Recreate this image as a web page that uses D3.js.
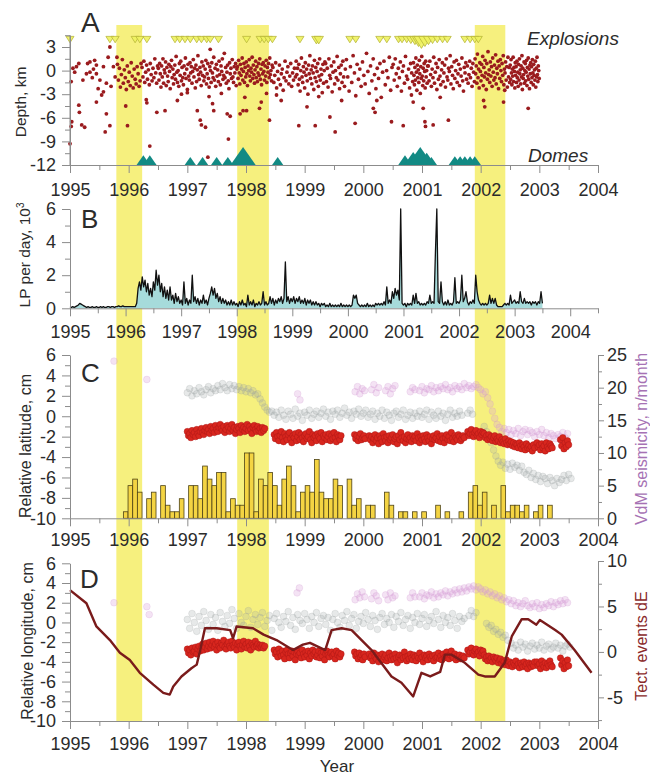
<!DOCTYPE html>
<html><head><meta charset="utf-8">
<script src="https://cdn.jsdelivr.net/npm/d3@7"></script>
<style>body{margin:0;background:#fff} svg text{font-family:"Liberation Sans",Arial,sans-serif}</style>
</head><body><svg id="c" width="650" height="776"></svg>
<script>
// ---------------- DATA ----------------
const yearLabels = ["1995","1996","1997","1998","1999","2000","2001","2002","2003","2004"];
const bands = [[1995.79,1996.23],[1997.85,1998.39],[2001.9,2002.42]];

// Panel A: explosions, domes, earthquake depths
const explosionT = [1995.0,1995.68,1995.77,1996.11,1996.19,1996.31,1996.79,1996.87,1996.96,1997.05,1997.16,1997.24,1997.33,1997.39,1997.53,1998.01,1998.24,1998.31,1998.38,1998.45,1998.92,1999.2,1999.24,1999.77,1999.87,2000.28,2000.4,2000.6,2000.66,2000.74,2000.81,2000.88,2000.94,2000.99,2001.05,2001.11,2001.18,2001.26,2001.35,2001.43,2001.73,2001.82,2001.9,2001.96];
const explosionSize = [1,1,1,1,1,1,1,1,1,1,1,1,1,1,1,1,1,1,1,1,1,1.3,1.3,1,1,1,1,1,1,1,1.2,1.5,2,2.5,2,1.5,1.2,1,1,1,1,1,1,1];
const domeT = [1996.25,1996.36,1997.05,1997.26,1997.5,1997.69,1997.95,1998.54,2000.71,2000.85,2000.97,2001.08,2001.16,2001.56,2001.65,2001.73,2001.82,2001.9];
const domeSize = [1.2,1.2,1,1,1,1,2.2,1,1.2,1.6,2.2,1.5,1,1.1,1.1,1.1,1.1,1.1];
const depthPts = [[1995.0,-9.3],[1995.03,-6.5],[1995.02,-7.1],[1995.2,-6.9],[1995.25,-7.2],[1995.15,-4.4],[1995.16,-5.3],[1995.02,-1.4],[1995.08,-0.2],[1995.15,0.9],[1995.34,1.1],[1995.42,1.3],[1995.34,-0.2],[1995.45,-0.4],[1995.51,-1.2],[1995.48,-2.3],[1995.45,-4.0],[1995.62,-5.5],[1995.68,-7.0],[1995.6,-7.8],[1995.68,3.0],[1995.65,1.7],[1995.74,0.5],[1995.77,-0.8],[1995.57,0.5],[1995.54,-3.1],[1995.28,-0.4],[1995.22,-1.2],[1995.11,0.5],[1995.8,1.7],[1995.62,-1.6],[1995.57,-2.7],[1995.45,0.7],[1995.3,0.9],[1995.38,-0.9],[1995.05,0.3],[1995.7,-2.0],[1995.4,0.2],
 [1995.95,-4.5],[1995.98,-7.0],[1996.3,-3.7],[1996.31,-4.1],[1996.36,-9.6],[1996.48,-5.3],
 [1996.62,-5.1],[1996.83,-3.8],[1997.22,-6.3],[1997.24,-6.9],[1997.31,-7.2],[1997.35,-11.0],[1997.17,-5.1],[1997.45,-5.1],[1997.43,-4.2],[1997.68,-5.5],[1997.73,-5.8],[1997.7,-8.7],[1997.58,-2.9],[1997.37,-3.3],[1997.39,2.7],[1996.9,-3.0],[1997.0,-2.8],
 [1997.9,-5.5],[1997.95,-5.1],[1998.01,-5.1],[1997.98,-3.4],[1998.26,-4.0],[1998.23,-4.8],[1998.4,-6.3],[1998.35,-2.9],[1998.52,-3.1],[1998.6,-3.8],[1998.9,-7.0],[1999.04,-4.6],[1999.18,-7.0],[1999.24,-3.3],
 [1999.43,-5.9],[1999.52,-7.8],[1999.63,-3.8],[1999.86,-6.7],[2000.17,-4.8],[2000.2,-5.3],[2000.23,-3.8],[2000.48,-6.5],[2000.68,-7.0],[2000.82,-3.1],[2000.85,-4.0],[2001.02,-4.8],[2001.05,-6.5],[2001.06,-7.1],[2001.19,-6.9],[2001.45,-6.3],[2001.31,-3.4],[2002.07,-4.6],[2002.05,-3.8],[2002.39,-4.0],[2002.81,-4.8],[2002.41,-2.5]];
// dense runs of events: [start year, end year, depths in order]
const depthRuns = [
 [1995.8,1996.22,[0.8,-1.2,0.3,-2.1,-0.5,1.4,-1.6,0.1,-0.9,-2.4,0.6,-1.4,-0.2,-1.9,1.0,-0.7,-2.2,0.2,-1.1,-1.7,0.5,-0.4,-2.0,-1.3,0.9]],
 [1996.22,1996.5,[0.4,-0.8,1.2,-1.5,-0.2,0.7,-1.1,0.1,-1.8,0.9,-0.5,-1.3,0.3,-0.9,1.5,-0.3,-1.6,0.6]],
 [1996.5,1997.85,[0.3,-1.2,0.9,-0.4,-2.1,0.6,-0.8,1.5,-1.6,0.1,-0.3,1.1,-1.9,0.4,-0.7,-1.4,0.8,-0.1,-2.3,0.5,1.3,-0.9,0.2,-1.7,-0.5,0.7,-1.1,1.8,-0.2,-1.5,0.0,-2.0,0.9,-0.6,1.2,-1.3,0.4,-0.9,-1.8,0.6,-0.4,1.6,-1.0,0.2,-2.4,0.8,-0.7,-1.2,1.0,-0.3,0.5,-1.6,-0.1,1.4,-0.8,0.3,-2.2,0.7,-1.4,0.1,1.9,-0.5,-1.1,0.4,-0.2,-1.9,1.1,-0.6,0.6,-1.3,-0.8,0.2,1.3,-1.7,-0.4,0.9,-1.0,-2.1,0.5,0.0,-1.5,1.0,-0.3,-0.9,1.7,-1.2,0.3,-2.0,0.8,-0.7,0.1,-1.4,1.2,-0.5,-1.8,0.6,-0.1,1.5,-1.1,-0.6,2.2,-0.9,0.4,-1.6,-0.2,0.7,-1.3,-2.3,1.0,-0.4,0.3,-1.0,1.4,-0.8,-1.5,0.5,-0.3,0.9,-1.9,0.2]],
 [1997.85,1998.45,[0.5,-1.0,1.3,-0.3,-1.7,0.8,-0.6,0.2,1.6,-1.2,-0.1,0.9,-1.5,0.4,-0.8,1.1,-0.4,-1.9,0.6,0.0,1.4,-0.7,-1.3,0.3,-0.2,1.7,-1.0,0.7,-0.5,-1.6,0.1,1.2,-0.9,0.5,-1.4,-0.3,0.9,-0.6,1.5,-1.1,0.2,-1.8,0.8,-0.4,1.0,-0.1,-1.2,0.6,-0.7,1.3,-1.5,0.4,-0.2,0.9,-0.9,1.6,-0.5,0.0,-1.3,0.7]],
 [1998.45,1998.85,[0.4,-1.5,-0.6,1.0,-2.2,-0.1,-1.1,0.7,-1.8,-0.4,0.2,-2.5,-0.9,1.2,-1.3,-0.2,0.5,-1.7,-0.7,0.9,-2.0,-0.3,-1.2,0.3,-0.8]],
 [1998.85,1999.35,[1.2,-0.5,0.3,-1.8,0.8,-1.1,-2.6,0.0,1.6,-0.8,-1.5,0.5,-0.2,-2.2,1.0,-0.6,0.2,-1.3,-3.0,0.7,-0.4,1.9,-1.0,0.1,-1.7,0.6,-0.3,-2.4,1.3,-0.9,0.4,-1.4,-0.1,0.9,-2.0,-0.7,1.5,-1.2,0.2,-0.5,-2.8,0.8,-1.6,0.0,1.1]],
 [1999.35,1999.7,[0.9,-1.4,0.3,-2.1,1.5,-0.6,-1.0,0.6,-2.7,-0.2,1.1,-1.7,0.0,-0.9,1.8,-1.2,0.4,-2.3,-0.4,0.7,-1.5,1.2,-0.8,-2.0,0.2]],
 [1999.7,2000.5,[1.4,-0.8,-2.6,0.5,-1.5,1.9,-0.3,-3.2,0.8,-1.1,0.2,-2.0,1.1,-0.6,-1.7,2.2,-0.1,-2.9,0.6,-1.3,1.5,-0.5,-2.3,0.3,-1.0,0.9,-3.4,-0.2,1.2,-1.8,0.0,-0.9,1.7,-2.5,0.4]],
 [2000.5,2000.85,[0.8,-1.2,1.5,-0.4,-2.0,0.3,-0.9,1.1,-2.6,-0.1,0.6,-1.6,1.8,-0.7,-1.1,0.2,-2.2,0.9,-0.3,-1.4]],
 [2000.85,2001.1,[1.0,-0.6,-1.8,0.4,-1.2,1.6,-0.2,-2.5,0.7,-0.9,0.1,-1.5,1.3,-0.4,-2.9,0.5,-1.0,1.8,-0.7,-1.9,0.3,-1.3,0.9,-0.1,-2.2,1.2,-0.8,0.0,-1.6,0.6]],
 [2001.1,2001.9,[0.6,-1.3,1.2,-0.5,-2.0,0.2,-0.9,1.7,-1.6,-0.2,0.9,-2.4,0.4,-1.1,1.4,-0.7,-1.8,0.1,1.0,-1.4,-0.3,0.7,-2.1,1.5,-0.8,-1.2,0.3,-0.1,1.9,-1.7,0.5,-0.6,-2.3,1.1,-1.0,0.0,1.3,-1.5,-0.4,0.8,-1.9,0.2,-0.7,1.6,-1.3,-2.6,0.4,-0.3,1.0,-1.1,0.6,-1.6,-0.5,1.2,-0.9,0.3,-2.0,0.9,-0.2,-1.4]],
 [2001.9,2002.5,[1.5,-0.4,0.6,-1.6,2.1,-0.9,0.2,-2.2,1.0,-0.1,-1.3,0.8,-0.6,1.8,-1.9,0.4,-0.8,1.3,-0.3,-2.4,0.9,-1.1,2.4,-0.5,0.1,-1.5,1.1,-0.7,0.5,-2.0,1.6,-0.2,-1.2,0.7,-0.9,2.0,-1.7,0.3,-0.4,1.2,-2.3,0.6,-1.0,1.4,0.0,-1.4,0.9,-0.6,1.9,-1.8,0.2,-0.3,1.1,-1.2,0.5,-2.1,1.7,-0.8,0.4,-1.5]],
 [2002.5,2003.0,[0.7,-1.1,1.4,-0.3,-1.8,0.2,-0.7,1.7,-1.4,0.4,-0.1,-2.2,1.0,-0.6,0.5,-1.5,1.2,-0.9,-0.2,-2.0,0.8,-1.2,1.5,-0.4,0.1,-1.7,0.6,-0.8,1.9,-2.4,0.3,-1.0,-0.5,1.1,-1.6,0.0,0.9,-1.3,-0.2,1.3,-1.9,0.4,-0.7,1.6,-1.1,0.2,-2.3,0.7,-0.4,1.0,-1.5,0.5,-0.9,1.4,-0.3,-1.8,0.8,-0.6,0.1,-1.2,1.2,-2.1,0.3,-0.8,1.7,-0.5,-1.4,0.6,0.0,-1.0]]
];

// Panel B: LP events per day (thousands), sampled every lpStep years from lpStart
const lpStart = 1995.0, lpStep = 0.025;
const lpPerDay = [
 0.1,0.05,0.1,0.05,0.1,0.15,0.2,0.3,0.25,0.2,0.15,0.1,0.05,0.1,0.05,0.05,0.1,0.05,0.05,0.1,0.05,0.05,0.1,0.05,0.1,0.05,0.05,0.1,0.1,0.05,0.1,0.1,0.05,0.1,0.1,0.15,0.1,0.1,0.15,0.1,
 0.1,0.1,0.1,0.1,0.1,0.1,0.1,0.1,0.3,1.2,1.6,1.1,1.9,1.3,1.7,1.0,1.5,0.8,1.2,0.7,1.6,1.1,2.3,1.4,2.0,1.0,1.5,0.7,1.3,0.6,1.1,0.5,1.3,0.5,0.8,0.3,0.9,0.4,0.7,0.3,
 0.5,0.2,1.6,0.3,0.6,0.2,0.5,0.3,2.0,0.4,0.7,0.3,0.6,0.2,0.5,0.3,0.8,0.3,0.5,0.2,0.6,0.9,1.3,0.8,1.2,0.6,0.9,0.4,0.7,0.3,0.6,0.3,0.5,0.2,0.4,0.2,0.5,0.2,0.4,0.2,
 0.3,0.1,0.4,0.2,0.5,0.2,0.3,0.1,0.8,0.2,0.4,0.2,0.5,0.1,0.3,0.2,0.4,0.2,0.3,1.0,0.2,0.4,0.2,0.3,0.7,0.3,0.6,0.2,0.5,0.3,0.6,0.4,0.7,0.3,0.6,2.8,0.4,0.7,0.3,0.6,
 0.4,0.7,0.3,0.6,0.4,0.7,0.3,0.5,0.3,0.6,0.2,0.5,0.3,0.5,0.2,0.4,0.2,0.4,0.2,0.3,0.1,0.3,0.2,0.3,0.1,0.2,0.1,0.3,0.1,0.2,0.1,0.2,0.1,0.2,0.1,0.3,0.1,0.2,0.1,0.2,
 0.1,0.2,0.1,0.2,0.8,0.6,0.8,0.3,0.2,0.1,0.2,0.1,0.2,0.1,0.3,0.1,0.2,0.1,0.2,0.1,0.3,0.2,0.3,0.2,0.3,0.2,0.4,0.2,1.3,0.3,0.5,0.3,1.0,0.6,1.2,0.8,1.1,0.5,6.0,0.3,
 0.2,0.3,0.1,0.3,0.2,0.3,0.2,0.8,0.3,0.9,0.3,0.4,0.2,0.3,0.2,0.3,0.2,0.4,0.3,0.8,0.3,0.4,0.3,3.4,6.0,0.4,0.3,1.6,0.4,0.2,0.4,0.2,0.5,0.2,0.3,0.2,0.4,1.85,0.3,0.4,
 0.3,0.5,2.0,0.4,0.6,1.0,0.4,0.2,0.4,0.3,0.5,0.3,2.0,1.0,0.5,0.3,0.2,0.3,0.2,0.3,0.2,0.3,0.8,0.3,0.6,0.3,0.6,0.2,0.1,0.1,0.1,0.1,0.2,0.3,0.2,0.3,0.2,0.8,0.3,0.4,
 0.5,0.3,0.4,0.3,1.0,0.4,0.3,0.6,0.3,0.4,0.3,0.4,0.2,0.4,0.3,0.4,0.2,0.4,0.3,1.0,0.3];

// GPS series: segments [start year, values]; gray/pink one value every gpsStep years, red every redStep
const gpsStep = 0.04, redStep = 0.02;
const latRed = [
 [1997.00,[-1.5,-1.9,-1.7,-2.1,-1.4,-1.8,-1.6,-2.0,-1.3,-1.7,-1.9,-1.5,-1.2,-1.6,-1.8,-1.4,-1.1,-1.5,-1.3,-1.7,-1.0,-1.4,-1.2,-1.6,-0.9,-1.3,-1.5,-1.1,-0.8,-1.2,-1.4,-1.0,-1.6,-1.3,-0.9,-1.1,-1.5,-1.2,-0.8,-1.4,-1.1,-1.7,-1.3,-1.0,-1.2,-1.6,-0.9,-1.3,-1.1,-1.5,-1.2,-0.8,-1.4,-1.0,-1.3,-1.7,-1.1,-0.9,-1.3,-1.5,-1.0,-1.4,-1.2,-1.6]],
 [1998.28,[-1.1,-1.4,-1.2]],
 [1998.48,[-1.8,-2.2,-1.6,-2.0,-2.4,-1.9,-1.5,-2.1,-2.5,-1.7,-2.0,-2.3,-1.8,-1.6,-2.2,-2.6,-1.9,-2.1,-1.7,-2.4,-2.0,-1.6,-2.3,-1.8,-2.1,-2.5,-1.9,-1.7,-2.2,-2.0,-1.5,-2.3,-2.6,-1.8,-2.1,-1.9,-2.4,-1.7,-2.0,-2.2,-1.6,-2.5,-1.9,-2.1,-1.8,-2.3,-2.0,-1.7,-2.4,-1.9,-2.2,-1.6,-2.1,-2.5,-1.8,-2.0,-2.3,-1.9]],
 [1999.85,[-1.8,-2.2,-1.9,-2.4,-2.0,-1.7,-2.3,-2.1,-1.9,-2.2]],
 [2000.10,[-1.9,-2.3,-2.0,-2.6,-2.2,-1.8,-2.4,-2.1,-2.7,-1.9,-2.2,-2.5,-1.7,-2.1,-2.4,-2.0,-2.6,-1.9,-2.3,-2.1,-1.8,-2.5,-2.2,-2.0,-2.7,-1.9,-2.3,-1.6,-2.1,-2.4,-2.0,-2.6,-2.2,-1.8,-2.3,-2.1,-2.5,-1.9,-2.2,-2.0,-2.4,-1.7,-2.1,-2.6,-2.0,-2.3,-1.9,-2.2,-2.5,-1.8,-2.1,-2.4,-2.0,-2.7,-2.2,-1.9,-2.3,-2.1,-1.7,-2.4,-2.0,-2.5,-1.9,-2.2,-2.6,-2.1,-1.8,-2.3,-2.0,-2.4,-1.6,-2.2,-2.5,-1.9,-2.1,-2.3,-1.8,-2.0,-2.4,-2.2,-1.9,-2.1]],
 [2001.78,[-1.5,-1.9,-1.7,-1.3,-1.8,-2.0,-1.6,-1.4,-1.9,-1.7,-2.1,-1.5,-1.8,-1.6]],
 [2002.06,[-1.7,-2.1,-1.9,-2.3,-1.8,-2.2,-2.0,-2.4,-2.1,-1.9,-2.5,-2.2,-2.4,-2.0,-2.6,-2.3,-2.5,-2.7,-2.2,-2.6,-2.8,-2.4,-2.7,-2.5,-2.9,-2.6,-3.0,-2.7,-2.8,-3.1,-2.6,-2.9,-3.2,-2.8,-3.0,-3.3,-2.7,-3.1,-2.9,-3.2,-3.0,-3.4,-2.8,-3.1]],
 [2002.96,[-2.6,-3.0,-2.8,-3.3,-2.7,-3.1,-2.9,-3.4,-2.6,-3.0,-3.2,-2.7,-2.9,-3.1]],
 [2003.36,[-2.3,-2.9,-2.1,-3.2,-2.6,-3.0,-2.4,-2.8]]];
const latGray = [
 [1997.00,[2.3,2.7,2.0,2.5,2.2,2.8,2.4,2.1,2.6,2.9,2.3,2.7,2.5,3.0,2.6,3.2,2.8,2.5,3.1,2.7,3.0,2.6,2.9,2.5,2.8,2.4,2.7,2.3,2.5,2.1,2.2,1.7,1.3,0.9,0.6,0.4,0.5,0.1]],
 [1998.52,[0.4,-0.1,0.6,0.1,-0.3,0.5,0.2,-0.2,0.7,0.0,0.3,-0.4,0.4,0.1,0.6,-0.2,0.2,0.5,-0.1,0.3,0.7,0.0,0.4,-0.3,0.5,0.2,0.6,-0.1,0.3,0.8,0.1,0.4,-0.2,0.5,0.2,0.7,0.0,0.3,0.6,-0.1,0.2,0.5,-0.3,0.3,0.0,0.6,-0.2,0.4,0.1,-0.4,0.3,0.5,-0.1,0.2,0.6,-0.3,0.1,0.4,-0.2,0.3,0.0,0.5,-0.1,0.2,0.6,-0.3,0.4,0.1,-0.2,0.5,0.0,0.3,-0.4,0.2,0.6,-0.1,0.3,0.0,0.5,0.1]],
 [2001.78,[0.3,0.6,0.2]],
 [2002.06,[-1.0,-1.5,-1.9,-2.6,-3.3,-3.9,-4.4,-4.8,-4.5,-5.1,-4.7,-5.2,-4.6,-5.0,-4.8,-5.3,-4.9,-5.5,-5.7,-5.3,-6.0,-5.6,-6.2,-5.8,-6.4,-5.9,-6.1,-6.6,-6.0,-6.3,-6.8,-6.1,-6.5,-6.2,-5.8,-6.3,-5.7,-6.1]]];
const latPink = [
 [1995.75,[5.4]],[1996.31,[3.6]],[1998.88,[2.2,1.6]],
 [1999.86,[2.4,2.9,2.2,2.7,2.5]],
 [2000.14,[2.6,3.1,2.3,2.8]],
 [2000.38,[2.5,2.9,2.2,2.7,3.0]],
 [2000.80,[2.4,2.8,2.6]],
 [2000.96,[2.5,2.9,2.3,2.7,2.6,3.0,2.4,2.8,2.5,2.9,2.7,3.1,2.6,2.8,2.4,3.0,2.7,2.9,2.6,3.2,2.8,3.0,2.7,2.9,3.1,2.8]],
 [2002.00,[2.6,2.2,2.4,1.8,1.2,0.5,-0.2,-0.8,-1.1,-1.5,-1.2,-1.6,-1.3,-1.8,-1.4,-1.7,-1.2,-1.9,-1.5,-1.3,-1.8,-1.4,-1.6,-2.0,-1.5,-1.8,-1.3,-1.9,-1.6,-2.1,-1.7,-1.9,-2.2,-1.8,-2.0,-1.6,-2.1,-1.7]]];
const lonRed = [
 [1997.00,[-2.7,-3.1,-2.8,-3.3,-2.6,-3.0,-2.9,-2.5,-3.2,-2.7,-2.4,-2.9,-2.6,-2.2,-2.8,-2.5,-2.1,-2.7,-2.4,-2.0,-2.6,-2.3,-1.9,-2.5,-2.2,-2.8,-2.0,-2.4,-2.6,-2.1,-2.3,-1.8,-2.5,-2.7,-2.2,-2.0,-2.4,-2.6,-1.9,-2.3,-2.5,-2.1,-2.8,-2.2,-2.0,-2.4,-2.7,-2.3,-1.9,-2.5,-2.2,-2.6,-2.0,-2.4,-2.8,-2.1,-2.3,-2.5,-1.9,-2.4,-2.2,-2.6,-2.3,-2.5]],
 [1998.28,[-2.3,-2.6,-2.4]],
 [1998.48,[-2.8,-3.2,-3.0,-3.5,-2.7,-3.1,-3.4,-2.9,-3.3,-3.7,-3.0,-2.8,-3.2,-3.6,-3.1,-2.9,-3.4,-3.0,-3.8,-3.2,-2.9,-3.3,-3.1,-3.6,-2.8,-3.2,-3.5,-3.0,-3.3,-2.9,-3.7,-3.1,-3.4,-2.8,-3.2,-3.0,-3.5,-3.3,-2.9,-3.6,-3.1,-3.4,-3.0,-3.8,-3.2,-2.9,-3.3,-3.5,-3.1,-3.0,-3.4,-3.2,-3.7,-2.9,-3.3,-3.1,-3.5,-3.2]],
 [1999.85,[-3.0,-3.4,-3.2,-3.7,-3.1,-3.5,-3.3,-3.8,-3.2,-3.5]],
 [2000.10,[-3.2,-3.6,-3.4,-3.9,-3.1,-3.5,-3.7,-3.3,-4.0,-3.4,-3.6,-3.2,-3.8,-3.5,-3.3,-3.9,-3.6,-3.1,-3.5,-3.8,-3.4,-3.7,-3.2,-3.6,-4.1,-3.5,-3.3,-3.8,-3.4,-3.6,-3.0,-3.5,-3.9,-3.4,-3.7,-3.2,-3.6,-3.8,-3.3,-3.5,-3.9,-3.4,-3.6,-3.1,-3.7,-3.5,-4.0,-3.3,-3.6,-3.4,-3.8,-3.2,-3.5,-3.7,-3.4,-3.9,-3.3,-3.6,-3.5,-3.1,-3.7,-3.4,-3.8,-3.2,-3.6,-3.5,-3.0,-3.4,-3.7,-3.3,-2.9,-3.5,-3.6,-3.2,-3.8,-3.4,-3.6,-3.3,-3.7,-3.5,-3.4,-3.6]],
 [2001.78,[-2.8,-3.2,-3.0,-2.6,-3.1,-3.3,-2.9,-2.7,-3.2,-3.0,-3.4,-2.8,-3.1,-2.9]],
 [2002.06,[-3.3,-3.7,-3.5,-3.9,-3.4,-3.8,-3.6,-4.0,-3.5,-3.7,-3.9,-3.6,-4.1,-3.8,-3.7,-4.2,-3.9,-4.0,-4.3,-3.8,-4.1,-4.4,-4.0,-4.2,-4.5,-4.1,-4.3,-3.9,-4.4,-4.2,-4.6,-4.1,-4.3,-4.5,-4.0,-4.4,-4.2,-4.7,-4.1,-4.3,-4.5,-4.2,-4.4,-4.0]],
 [2002.96,[-4.0,-4.4,-4.2,-4.7,-3.9,-4.3,-4.5,-4.1,-4.6,-4.2,-4.4,-3.9,-4.3,-4.5]],
 [2003.36,[-3.6,-4.3,-3.9,-4.7,-4.1,-4.5,-3.8,-4.4]]];
const lonGray = [
 [1997.00,[0.3,-0.6,0.9,0.0,-0.9,0.6,-0.3,1.1,0.2,-0.7,0.8,-0.2,0.5,-0.8,1.0,0.1,-0.4,0.7,-0.1,1.3,0.4,-0.6,0.9,0.0,-0.3,0.6,1.2,-0.5,0.3,0.8,-0.2,0.5,1.0,-0.4,0.2,0.7,-0.8,0.4,0.9,0.0,-0.5,0.6,0.1,1.1,-0.3,0.5,-0.7,0.8,0.2,-0.1,0.9,0.3,-0.6,0.6,0.0,1.0,-0.4,0.4,0.7,-0.2,0.5,-0.8,0.3,0.9,0.0,-0.5,0.7,0.2,1.1,-0.3,0.4,0.8,-0.6,0.1,0.6,-0.1,1.0,0.3,-0.4,0.7,0.2,-0.7,0.5,0.9,-0.2,0.4,0.0,0.8,-0.5,0.6,0.1,1.0,-0.3,0.3,0.7,-0.6,0.5,0.0,0.9,-0.2,0.4,0.8,-0.4,0.2,0.6,-0.1,1.1,0.3,-0.5,0.7,0.0,0.5,-0.3,0.9,0.2,-0.6,0.6,0.1,0.4]],
 [2001.80,[0.7,1.2,0.6,1.0]],
 [2002.10,[-0.1,-0.5,-0.3,-0.9,-0.7,-1.2,-1.0,-1.5,-1.3,-1.8]],
 [2002.52,[-2.1,-2.6,-2.3,-2.8,-2.0,-2.5,-2.2,-2.9,-2.4,-2.1,-2.7,-2.3,-2.6,-2.0,-2.8,-2.4,-2.2,-2.7,-2.5,-2.1,-2.6,-2.3,-2.9,-2.4,-2.2,-2.5]]];
const lonPink = [
 [1995.75,[2.0]],[1996.31,[1.6,0.8]],[1998.87,[3.0,3.5]],
 [1999.86,[2.3,2.9,2.5,3.1,2.6]],
 [2000.14,[2.4,3.0,2.7,2.2]],
 [2000.38,[2.8,2.3,3.0,2.5,2.7]],
 [2000.80,[2.5,3.0,2.6]],
 [2000.96,[2.6,3.0,2.4,2.8,2.7,3.1,2.5,2.9,2.6,3.0,2.8,3.2,2.7,3.1,2.9,3.3,3.0,3.4,3.1,3.5,3.2,3.6,3.4,3.7,3.3,3.6]],
 [2002.00,[3.4,3.1,3.3,2.9,3.1,2.7,2.9,2.5,2.7,2.3,2.5,2.1,2.3,1.9,2.2,1.7,2.0,1.6,1.9,2.2,1.7,1.5,1.9,1.6,2.0,1.4,1.8,1.5,1.9,1.7,2.1,1.6,2.0,1.8,2.2,1.9,2.3,2.0]]];

// VdM seismicity, events per month (bins from vdmStart to vdmEnd)
const vdmStart = 1995.91, vdmEnd = 2003.22;
const vdmCounts = [1,5,6,4,0,3,4,0,5,2,1,1,3,0,5,5,3,8,6,5,7,7,1,3,2,2,10,10,1,6,5,7,5,2,6,8,5,1,4,5,4,9,4,
 3,3,6,5,0,6,2,3,0,2,2,0,0,4,2,0,1,1,0,1,0,1,0,0,2,0,1,0,0,1,0,4,5,2,4,0,2,0,5,1,2,2,1,2,0,1,2,0,2];

// Panel D: tectonic events dE
const tectT = [1995.0,1995.28,1995.45,1995.68,1995.85,1996.02,1996.19,1996.42,1996.59,1996.7,1996.76,1996.9,1997.07,1997.16,1997.22,1997.3,1997.5,1997.73,1997.78,1997.84,1998.12,1998.3,1998.52,1998.8,1998.97,1999.09,1999.35,1999.46,1999.63,1999.8,2000.14,2000.48,2000.65,2000.85,2000.99,2001.14,2001.31,2001.39,2001.5,2001.73,2001.96,2002.07,2002.24,2002.41,2002.53,2002.7,2002.81,2002.95,2003.01,2003.27,2003.38,2003.6,2003.89];
const tectV = [6.8,5.35,2.8,1.3,-0.1,-0.9,-2.3,-3.6,-4.5,-4.7,-3.8,-2.7,-1.8,-1.4,0.2,2.6,2.6,2.4,1.5,2.8,2.6,1.9,1.3,0.2,0.8,1.0,0.2,2.4,2.6,2.4,0.2,-2.7,-3.4,-4.9,-2.3,-2.7,-2.2,-0.3,-0.3,-1.2,-2.5,-2.7,-2.7,-1.2,1.7,3.6,3.6,3.0,3.5,2.4,1.9,0.2,-2.3];

// ---------------- DRAWING ----------------
const svg = d3.select("#c");
const axisCol = "#8c8c8c", txtCol = "#2b2b2b";
const x  = d3.scaleLinear().domain([1995, 2004]).range([70, 598]);
const xB = d3.scaleLinear().domain([1995, 2004.5]).range([70, 598]);
const yA = d3.scaleLinear().domain([-12, 4.5]).range([165, 35.2]);
const yB = d3.scaleLinear().domain([0, 6]).range([308.3, 209]);
const yC = d3.scaleLinear().domain([-10, 6]).range([518.3, 355]);
const yCr = d3.scaleLinear().domain([0, 25]).range([518.3, 355]);
const yD = d3.scaleLinear().domain([-10, 6]).range([721, 563.3]);
const yDr = d3.scaleLinear().domain([-7.6, 10]).range([721, 561]);

// bands
svg.append("g").selectAll("rect").data(bands).join("rect")
  .attr("x", d => x(d[0])).attr("width", d => x(d[1]) - x(d[0]))
  .attr("y", 25).attr("height", 697).attr("fill", "#f6f07e");

function styleAxis(g, fs) {
  g.attr("font-family", null).attr("font-size", null);
  g.selectAll("path.domain").attr("stroke", axisCol);
  g.selectAll(".tick line").attr("stroke", axisCol);
  g.selectAll("text").attr("fill", txtCol).style("font-size", fs + "px");
}
function bottomAxis(scale, y0, pad, d1) {
  const maj = d3.range(1995, 2005);
  const min = d3.range(1995.5, d1, 1);
  svg.append("g").attr("transform", `translate(0,${y0})`)
    .call(d3.axisBottom(scale).tickValues(min).tickSize(5).tickFormat("").tickSizeOuter(0))
    .call(g => { g.select(".domain").remove(); styleAxis(g, 18); });
  svg.append("g").attr("transform", `translate(0,${y0})`)
    .call(d3.axisBottom(scale).tickValues(maj).tickSize(8).tickPadding(pad).tickSizeOuter(0)
      .tickFormat((d, i) => yearLabels[i]))
    .call(g => styleAxis(g, 18));
}
function leftAxis(scale, xpos, majV, minV) {
  svg.append("g").attr("transform", `translate(${xpos},0)`)
    .call(d3.axisLeft(scale).tickValues(minV).tickSize(5).tickFormat("").tickSizeOuter(0))
    .call(g => { g.select(".domain").remove(); styleAxis(g, 18); });
  svg.append("g").attr("transform", `translate(${xpos},0)`)
    .call(d3.axisLeft(scale).tickValues(majV).tickSize(8).tickPadding(6).tickSizeOuter(0).tickFormat(d => String(d)))
    .call(g => styleAxis(g, 18));
}
function rightAxis(scale, xpos, majV, minV) {
  svg.append("g").attr("transform", `translate(${xpos},0)`)
    .call(d3.axisRight(scale).tickValues(minV).tickSize(4).tickFormat("").tickSizeOuter(0))
    .call(g => { g.select(".domain").remove(); styleAxis(g, 18); });
  svg.append("g").attr("transform", `translate(${xpos},0)`)
    .call(d3.axisRight(scale).tickValues(majV).tickSize(6).tickPadding(3).tickSizeOuter(0).tickFormat(d => String(d)))
    .call(g => styleAxis(g, 18));
}
function label(txt, xx, yy, opts = {}) {
  const t = svg.append("text").attr("x", xx).attr("y", yy).text(txt)
    .attr("fill", opts.fill || txtCol).style("font-size", (opts.fs || 16) + "px");
  if (opts.rot) t.attr("transform", `rotate(-90,${xx},${yy})`).attr("text-anchor", "middle");
  if (opts.anchor) t.attr("text-anchor", opts.anchor);
  if (opts.italic) t.style("font-style", "italic");
  return t;
}
const segPts = (segs, step) => segs.flatMap(([t0, vals]) => vals.map((v, i) => [t0 + i * step, v]));
function dots(pts, ys, st) {
  svg.append("g").selectAll("circle").data(pts).join("circle")
    .attr("cx", d => x(d[0])).attr("cy", d => ys(d[1])).attr("r", st.r)
    .attr("fill", st.fill).attr("fill-opacity", st.fo ?? 1)
    .attr("stroke", st.stroke || "none").attr("stroke-opacity", st.so ?? 1).attr("stroke-width", st.sw || 0.6);
}
const pinkSt = {r: 3.4, fill: "#d9a2d9", fo: 0.3, stroke: "#c98bc9", so: 0.3};
const graySt = {r: 3.4, fill: "#a3abab", fo: 0.26, stroke: "#8f9898", so: 0.3};
const redSt = {r: 3.2, fill: "#d8261e", stroke: "#a51515", so: 0.7};

// ---- Panel A ----
const depthAll = depthPts.concat(depthRuns.flatMap(([t0, t1, ds]) =>
  ds.map((d, i) => [t0 + (t1 - t0) * (i + 0.5) / ds.length, d])));
svg.append("g").selectAll("circle").data(depthAll).join("circle")
  .attr("cx", d => x(d[0])).attr("cy", d => yA(d[1])).attr("r", 1.9).attr("fill", "#9a1b1e");
const explosionLevel = 4.35;
const exSide = d3.scaleLinear().domain([1, 2.5]).range([8, 15]);
svg.append("g").selectAll("path").data(explosionT.map((t, i) => [t, explosionSize[i]])).join("path")
  .attr("d", d => { const cx = x(d[0]), top = yA(explosionLevel), s = exSide(d[1]), h = s * 0.8;
    return `M${cx - s / 2},${top}L${cx + s / 2},${top}L${cx},${top + h}Z`; })
  .attr("fill", "#eef25e").attr("fill-opacity", 0.9).attr("stroke", "#b9b83a").attr("stroke-width", 0.8);
const domeH = d3.scaleLinear().domain([1, 2.2]).range([8, 18]);
svg.append("g").selectAll("path").data(domeT.map((t, i) => [t, domeSize[i]])).join("path")
  .attr("d", d => { const cx = x(d[0]), b = yA(-12), h = domeH(d[1]), w = h * 0.7;
    return `M${cx - w},${b}L${cx},${b - h}L${cx + w},${b}Z`; })
  .attr("fill", "#128a84");
bottomAxis(x, 165, 10, 2004);
leftAxis(yA, 70, d3.range(-12, 4, 3), d3.range(-10.5, 5, 3));
svg.append("line").attr("x1", 70).attr("x2", 70).attr("y1", yA(-12)).attr("y2", yA(4.5)).attr("stroke", axisCol);
label("A", 81, 32, {fs: 28});
label("Explosions", 527, 45, {fs: 19, italic: true});
label("Domes", 528, 162, {fs: 19, italic: true});
label("Depth, km", 26, 102, {rot: true, fs: 15.5});

// ---- Panel B ----
const lp = lpPerDay.map((v, i) => [lpStart + i * lpStep, v]);
svg.append("path").datum(lp).attr("fill", "#a6dbdb")
  .attr("d", d3.area().x(d => xB(d[0])).y0(yB(0)).y1(d => yB(d[1])));
svg.append("path").datum(lp).attr("fill", "none").attr("stroke", "#111").attr("stroke-width", 1.3)
  .attr("stroke-linejoin", "round")
  .attr("d", d3.line().x(d => xB(d[0])).y(d => yB(d[1])));
bottomAxis(xB, 308.3, 9, 2004.6);
leftAxis(yB, 70, [0, 2, 4, 6], [1, 3, 5]);
label("B", 81, 228, {fs: 26});
const lpLab = label("LP per day, 10", 30, 255, {rot: true, fs: 15.5});
lpLab.append("tspan").text("3").attr("dy", -6).style("font-size", "10px");

// ---- Panel C ----
const nb = vdmCounts.length, bw = (vdmEnd - vdmStart) / nb;
svg.append("g").selectAll("rect").data(vdmCounts.map((c, i) => [vdmStart + i * bw, c]).filter(d => d[1] > 0)).join("rect")
  .attr("x", d => x(d[0])).attr("width", x(vdmStart + bw) - x(vdmStart))
  .attr("y", d => yCr(d[1])).attr("height", d => yCr(0) - yCr(d[1]))
  .attr("fill", "#f4d443").attr("stroke", "#4d4215").attr("stroke-width", 0.8);
dots(segPts(latPink, gpsStep), yC, pinkSt);
dots(segPts(latGray, gpsStep), yC, graySt);
dots(segPts(latRed, redStep), yC, redSt);
bottomAxis(x, 518.3, 7, 2004);
leftAxis(yC, 70, d3.range(-10, 7, 2), d3.range(-9, 6, 2));
rightAxis(yCr, 598, [0, 5, 10, 15, 20, 25], [2.5, 7.5, 12.5, 17.5, 22.5]);
label("C", 81, 382, {fs: 26});
label("Relative latitude, cm", 31, 446, {rot: true, fs: 16});
label("VdM seismicity, n/month", 647, 439, {rot: true, fs: 16, fill: "#a672b4"});

// ---- Panel D ----
dots(segPts(lonPink, gpsStep), yD, pinkSt);
dots(segPts(lonGray, gpsStep), yD, graySt);
dots(segPts(lonRed, redStep), yD, redSt);
svg.append("path").datum(tectT.map((t, i) => [t, tectV[i]])).attr("fill", "none")
  .attr("stroke", "#7a1b1b").attr("stroke-width", 2.4).attr("stroke-linejoin", "round")
  .attr("d", d3.line().x(d => x(d[0])).y(d => yDr(d[1])));
bottomAxis(x, 721, 8, 2004);
leftAxis(yD, 70, d3.range(-10, 7, 2), d3.range(-9, 6, 2));
rightAxis(yDr, 598, [-5, 0, 5, 10], [-7.5, -2.5, 2.5, 7.5]);
label("D", 80, 588, {fs: 26});
label("Relative longitude, cm", 33, 641, {rot: true, fs: 16});
label("Tect. events dE", 647, 646, {rot: true, fs: 16, fill: "#8a2a2a"});
label("Year", 337, 772, {fs: 17, anchor: "middle"});
</script></body></html>
